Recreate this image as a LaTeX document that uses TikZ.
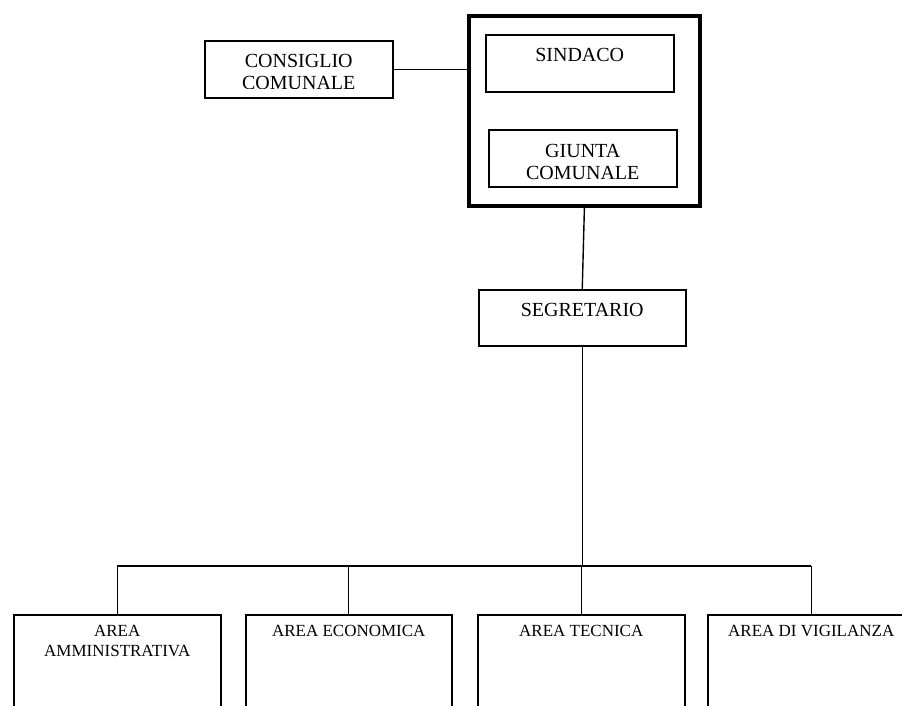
\documentclass[tikz,border=0pt]{standalone}
\usepackage{fontspec}
\setmainfont{Liberation Serif}
\usetikzlibrary{positioning,calc}

\begin{document}
\begin{tikzpicture}[x=1pt,y=-1pt,
    box/.style={draw,line width=1.5pt,anchor=north west,inner sep=0pt},
    bigbox/.style={draw,line width=3.8pt,anchor=north west,inner sep=0pt},
    toplbl/.style={inner sep=0pt,align=center,font=\fontsize{20}{22}\selectfont},
    arealbl/.style={inner sep=0pt,align=center,font=\fontsize{17}{20}\selectfont},
    link/.style={line width=1.4pt}]
  \useasboundingbox (0,0) rectangle (902,705);

  % top
  \node[box,minimum width=188pt,minimum height=57pt] (cons) at (204,40) {};
  \begin{scope}
    \clip (cons.north west) rectangle ($(cons.south east)+(0,10.5pt)$);
    \node[toplbl,below=14pt of cons.north] (consT) {CONSIGLIO\\COMUNALE};
  \end{scope}

  \node[bigbox,minimum width=231pt,minimum height=190pt] (big) at (467,14) {};
  \node[box,minimum width=188pt,minimum height=57pt] (sind) at (485,34) {};
    \node[toplbl,below=14pt of sind.north] (sindT) {SINDACO};
  \node[box,minimum width=188pt,minimum height=57pt] (giun) at (488,129) {};
    \node[toplbl,below=15pt of giun.north] (giunT) {GIUNTA\\COMUNALE};

  \node[box,minimum width=207pt,minimum height=56pt] (seg) at (478,289) {};
    \node[toplbl,below=14pt of seg.north] (segT) {SEGRETARIO};

  % aree
  \node[box,minimum width=207pt,minimum height=110pt] (a1) at (13,614) {};
    \node[arealbl,below=11.5pt of a1.north] (a1T) {AREA\\AMMINISTRATIVA};
  \node[box,minimum width=206pt,minimum height=110pt] (a2) at (245,614) {};
    \node[arealbl,below=11.5pt of a2.north] (a2T) {AREA ECONOMICA};
  \node[box,minimum width=207pt,minimum height=110pt] (a3) at (477,614) {};
    \node[arealbl,below=11.5pt of a3.north] (a3T) {AREA TECNICA};
  \node[box,minimum width=207pt,minimum height=110pt] (a4) at (707,614) {};
    \node[arealbl,below=11.5pt of a4.north] (a4T) {AREA DI VIGILANZA};

  % collegamenti
  \draw[link] (cons.east) -- (cons.east -| big.west);
  \draw[link] (big.south) -- (seg.north);
  \coordinate (bus) at (580,566);
  \draw[link] (seg.south) -- (seg.south |- bus);
  \draw[link] (a1.north |- bus) -- (a4.north |- bus);
  \foreach \a in {a1,a2,a3,a4}
    \draw[link] (\a.north |- bus) -- (\a.north);

\end{tikzpicture}
\end{document}
